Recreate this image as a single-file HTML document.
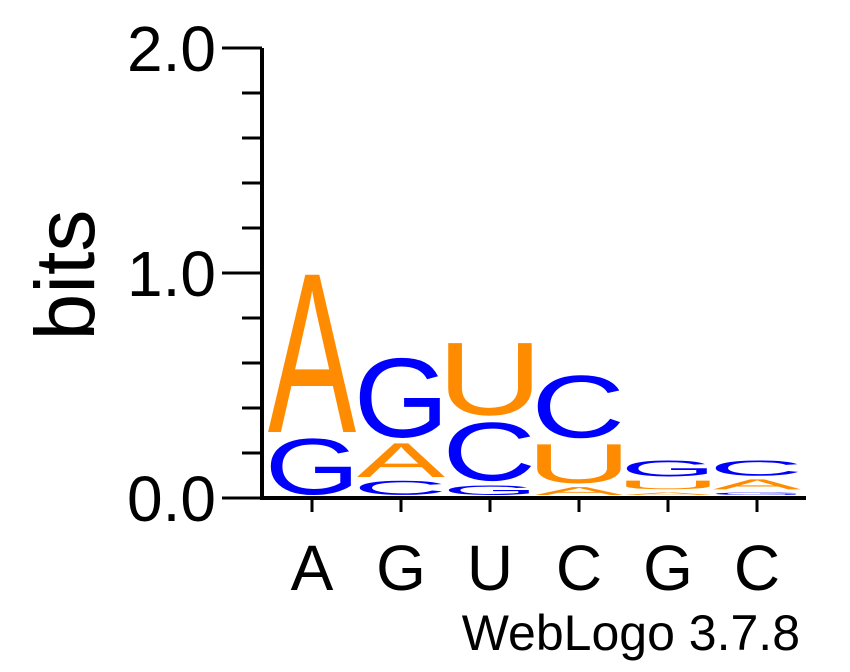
<!DOCTYPE html>
<html><head><meta charset="utf-8"><style>
body{margin:0;background:#fff;}
svg text{font-family:"Liberation Sans",sans-serif;}
</style></head><body>
<svg id="logo" width="850" height="667" viewBox="0 0 850 667">
<g id="axes"></g>
<g id="stacks"></g>
<text x="72" y="275" font-size="84" text-anchor="middle" transform="rotate(-90 72 275)" dominant-baseline="middle">bits</text>
<text x="800" y="650" font-size="50" text-anchor="end">WebLogo 3.7.8</text>
</svg>
<script>
const positions = ["A","G","U","C","G","C"];
// stacks bottom -> top: letters and heights in bits
const stackLetters = [["G","A"],["C","A","G"],["G","C","U"],["A","U","C"],["A","U","G"],["G","A","C"]];
const stackHeights = [[0.28,0.745],[0.08,0.17,0.39],[0.06,0.29,0.36],[0.05,0.2,0.31],[0.025,0.055,0.09],[0.025,0.06,0.085]];
const yTicks = [0,1,2];
const yTickLabels = ["0.0","1.0","2.0"];

const NS="http://www.w3.org/2000/svg";
const y0=498, pxPerBit=225, x0=268, colW=89;
const y = v => y0 - v*pxPerBit;
const xc = i => x0 + colW*i + colW/2 - 0.5;
const colors={A:"#ff8c00",U:"#ff8c00",C:"#0000ff",G:"#0000ff"};
// approximate ink bounds of Liberation Sans glyphs at font-size 100
const ink={A:[2,64.7,0],C:[4.9,68.7,1.5],G:[4.8,72.5,1.5],U:[7.9,64.4,1.5]};
const axes=document.getElementById('axes'), stacks=document.getElementById('stacks');
function mk(tag,attrs,parent){const e=document.createElementNS(NS,tag);for(const k in attrs)e.setAttribute(k,attrs[k]);parent.appendChild(e);return e;}

let l=mk('line',{x1:262,y1:y(2),x2:262,y2:y0+2,stroke:"#000","stroke-width":4},axes);


l=mk('line',{x1:260,y1:y0,x2:806,y2:y0,stroke:"#000","stroke-width":4},axes);


for(let k=0;k<=10;k++){
  const v=k*0.2, major=(k%5===0);
  const t=mk('line',{x1:major?222:242,y1:y(v),x2:262,y2:y(v),stroke:"#000","stroke-width":3},axes);
  
  
}
yTicks.forEach((v,i)=>{
  const t=mk('text',{x:216,y:y(v)+23,"font-size":64,"text-anchor":"end"},axes);
  t.textContent=yTickLabels[i];
  
  
});
positions.forEach((p,i)=>{
  const t=mk('line',{x1:xc(i),y1:y0,x2:xc(i),y2:y0+14,stroke:"#000","stroke-width":3},axes);
  
  
  const lb=mk('text',{x:xc(i),y:590,"font-size":64,"text-anchor":"middle"},axes);
  lb.textContent=p;
  
  
});
stackLetters.forEach((col,i)=>{
  let cum=0;
  col.forEach((ch,j)=>{
    const h=stackHeights[i][j];
    const bottom=y(cum), top=y(cum+h);
    cum+=h;
    const ph=Math.max(bottom-top-3,1);
    const t=mk('text',{x:0,y:0,"font-size":100,fill:colors[ch]},stacks);
    t.textContent=ch;
    
    
    const b=ink[ch];
    const gh=72+b[2]*2;
    const sx=83/(b[1]-b[0]), sy=ph/gh;
    t.setAttribute('transform',`translate(${xc(i)-41.5},${bottom-3-b[2]*sy}) scale(${sx},${sy}) translate(${-b[0]},0)`);
  });
});
</script>
</body></html>
